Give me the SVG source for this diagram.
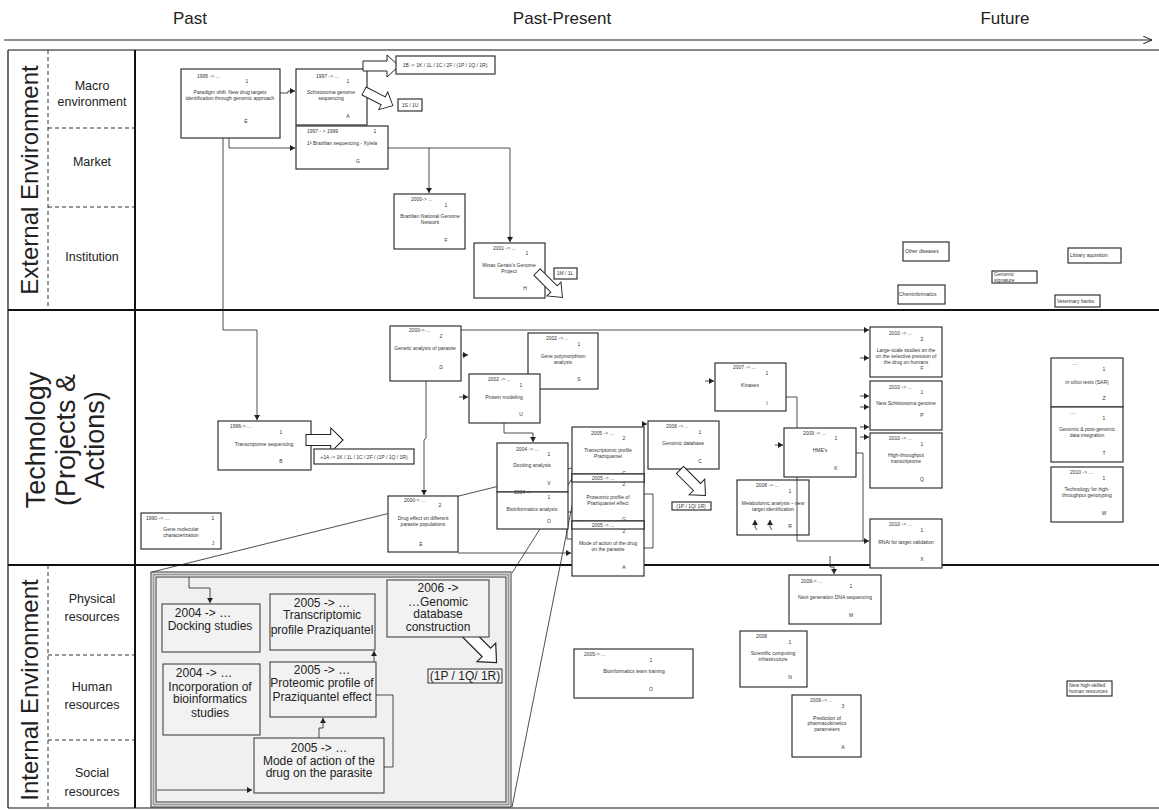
<svg xmlns="http://www.w3.org/2000/svg" width="1159" height="811" viewBox="0 0 1159 811">
<style>
.n{fill:#fff;stroke:#333;stroke-width:1.2}
.t{font-family:"Liberation Sans",Arial,sans-serif;font-size:5px;fill:#333}
.m{text-anchor:middle}
.c{fill:none;stroke:#222;stroke-width:0.8}
.ca{fill:none;stroke:#222;stroke-width:0.8;marker-end:url(#ah)}
.ba{fill:#fff;stroke:#222;stroke-width:1}
.hd{font-family:"Liberation Sans",Arial,sans-serif;font-size:17px;fill:#222;text-anchor:middle}
.big{font-family:"Liberation Sans",Arial,sans-serif;font-size:24px;fill:#222;text-anchor:middle}
.lab{font-family:"Liberation Sans",Arial,sans-serif;font-size:12.5px;fill:#222;text-anchor:middle}
.pb{fill:#f2f2f2;stroke:#333;stroke-width:1}
.pt{font-family:"Liberation Sans",Arial,sans-serif;font-size:12px;fill:#222;text-anchor:middle}
.sep{stroke:#111;stroke-width:2}
.thin{stroke:#111;stroke-width:1.2}
.dash{stroke:#333;stroke-width:1;stroke-dasharray:4 3}
</style>
<defs>
<marker id="ah" markerUnits="userSpaceOnUse" markerWidth="6" markerHeight="6" refX="5" refY="3" orient="auto"><path d="M0,0 L5,3 L0,6 z" fill="#222"/></marker>
<marker id="hah" markerUnits="userSpaceOnUse" markerWidth="10" markerHeight="8" refX="9" refY="4" orient="auto"><path d="M0,0 L9,4 L0,8" fill="none" stroke="#222" stroke-width="1"/></marker>
<path id="blk" d="M0,-5 L24,-5 L24,-11 L36,0 L24,11 L24,5 L0,5 Z"/>
</defs>

<!-- header -->
<g id="header">
<text class="hd" x="190" y="24">Past</text>
<text class="hd" x="562" y="24">Past-Present</text>
<text class="hd" x="1005" y="24">Future</text>
<line x1="4" y1="40" x2="1152" y2="40" stroke="#222" stroke-width="1" marker-end="url(#hah)"/>
</g>

<!-- frame -->
<g id="frame">
<line class="thin" x1="8" y1="50" x2="1159" y2="50"/>
<line class="thin" x1="8" y1="50" x2="8" y2="808"/>
<line class="thin" x1="8" y1="808" x2="1159" y2="808"/>
<line class="sep" x1="135" y1="50" x2="135" y2="808"/>
<line class="sep" x1="8" y1="310" x2="1159" y2="310"/>
<line class="sep" x1="8" y1="565" x2="1159" y2="565"/>
<line class="dash" x1="48" y1="50" x2="48" y2="310"/>
<line class="dash" x1="48" y1="565" x2="48" y2="808"/>
<line class="dash" x1="48" y1="128" x2="135" y2="128"/>
<line class="dash" x1="48" y1="207" x2="135" y2="207"/>
<line class="dash" x1="48" y1="655" x2="135" y2="655"/>
<line class="dash" x1="48" y1="740" x2="135" y2="740"/>
<text class="big" transform="translate(38,180) rotate(-90)">External Environment</text>
<text class="big" transform="translate(38,690) rotate(-90)">Internal Environment</text>
<text class="big" style="font-size:27px" transform="translate(45,440) rotate(-90)">Technology</text>
<text class="big" style="font-size:27px" transform="translate(75,440) rotate(-90)">(Projects &amp;</text>
<text class="big" style="font-size:27px" transform="translate(104,440) rotate(-90)">Actions)</text>
<text class="lab" x="92" y="90">Macro</text>
<text class="lab" x="92" y="106">environment</text>
<text class="lab" x="92" y="166">Market</text>
<text class="lab" x="92" y="261">Institution</text>
<text class="lab" x="92" y="603">Physical</text>
<text class="lab" x="92" y="621">resources</text>
<text class="lab" x="92" y="691">Human</text>
<text class="lab" x="92" y="709">resources</text>
<text class="lab" x="92" y="777">Social</text>
<text class="lab" x="92" y="796">resources</text>
</g>

<!-- connectors -->
<g id="connectors">
<polyline class="ca" points="280,93 288,93 288,91 295,91"/>
<polyline class="ca" points="229,138 229,148 295,148"/>
<polyline class="ca" points="223,117 223,330 257,330 257,420"/>
<polyline class="c" points="388,148 510,148 510,237"/>
<line class="ca" x1="510" y1="236" x2="510" y2="242"/>
<polyline class="ca" points="429,148 429,193"/>
<polyline class="ca" points="461,330 869,330"/>
<line class="ca" x1="462" y1="355" x2="468" y2="355"/>
<line class="ca" x1="459" y1="397" x2="468" y2="397"/>
<polyline class="ca" points="504,423 504,433 533,433 533,442"/>
<polyline class="ca" points="426,381 426,438 424,440 424,495"/>
<polyline class="ca" points="458,553 571,553"/>
<polyline class="c" points="572,539 567,539 567,512 609,512"/>
<line class="ca" x1="609" y1="538" x2="609" y2="530"/>
<polyline class="ca" points="644,548 653,548 653,494 638,494 638,471"/>
<line class="ca" x1="642" y1="424" x2="647" y2="424"/>
<line class="ca" x1="705" y1="381" x2="714" y2="381"/>
<line class="ca" x1="775" y1="445" x2="783" y2="445"/>
<polyline class="ca" points="724,397 797,397 797,541 869,541"/>
<polyline class="c" points="856,453 863,453 863,541"/>
<line class="ca" x1="860" y1="358" x2="869" y2="358"/>
<line class="ca" x1="860" y1="396" x2="869" y2="396"/>
<line class="ca" x1="860" y1="407" x2="869" y2="407"/>
<line class="ca" x1="860" y1="427" x2="869" y2="427"/>
<line class="ca" x1="860" y1="437" x2="869" y2="437"/>
<polyline class="ca" points="830,556 830,567 834,567 834,574"/>
<polyline class="ca" points="757,530 755,527 755,520"/>
<polyline class="ca" points="772,530 770,527 770,520"/>
<line class="c" x1="152" y1="572" x2="580" y2="466"/>
<line class="c" x1="512" y1="573" x2="580" y2="466"/>
<line class="c" x1="512" y1="807" x2="580" y2="466"/>
</g>

<!-- External environment nodes -->
<g id="nE">
<rect class="n" x="181" y="69" width="99" height="69"/>
<text class="t" x="197" y="78">1995 -&gt; ...</text>
<text class="t m" x="247" y="83">1</text>
<text class="t m" x="230" y="94">Paradigm shift: New drug targets</text>
<text class="t m" x="230" y="100">identification  through genomic approach</text>
<text class="t m" x="246" y="123">E</text>
</g>
<g id="nA">
<rect class="n" x="296" y="69" width="71" height="56"/>
<text class="t" x="316" y="78">1997 -&gt; ...</text>
<text class="t m" x="348" y="83">1</text>
<text class="t m" x="331" y="94">Schistosoma genome</text>
<text class="t m" x="331" y="100">sequencing</text>
<text class="t m" x="348" y="118">A</text>
</g>
<g id="nG">
<rect class="n" x="296" y="126" width="92" height="43"/>
<text class="t" x="307" y="133">1997 - &gt; 1999</text>
<text class="t m" x="375" y="133">1</text>
<text class="t m" x="342" y="145">1ª  Brazilian sequencing - Xylela</text>
<text class="t m" x="358" y="163">G</text>
</g>
<g id="nF">
<rect class="n" x="394" y="194" width="71" height="55"/>
<text class="t" x="411" y="201">2000-&gt; ...</text>
<text class="t m" x="446" y="207">1</text>
<text class="t m" x="430" y="218">Brazilian National Genome</text>
<text class="t m" x="430" y="224">Network</text>
<text class="t m" x="446" y="242">F</text>
</g>
<g id="nH">
<rect class="n" x="474" y="243" width="71" height="55"/>
<text class="t" x="493" y="250">2001 -&gt; ...</text>
<text class="t m" x="527" y="255">1</text>
<text class="t m" x="509" y="267">Minas Gerais's Genome</text>
<text class="t m" x="509" y="273">Project</text>
<text class="t m" x="525" y="290">H</text>
</g>
<g id="arrowsExt">
<use href="#blk" class="ba" transform="translate(363,66)"/>
<use href="#blk" class="ba" transform="translate(364,91) rotate(27) scale(0.9)"/>
<use href="#blk" class="ba" transform="translate(537,272) rotate(45) scale(1,0.9)"/>
</g>
<g id="n1B">
<rect class="n" x="396" y="56" width="99" height="18"/>
<text class="t m" x="445" y="67">1B -&gt; 1K / 1L / 1C / 2F / (1P / 1Q / 1R)</text>
</g>
<g id="n1S">
<rect class="n" x="398" y="99" width="24" height="12"/>
<text class="t m" x="410" y="107">1S / 1U</text>
</g>
<g id="n1M">
<rect class="n" x="554" y="268" width="23" height="11"/>
<text class="t m" x="565" y="275">1M / 1L</text>
</g>
<g id="nOther">
<rect class="n" x="903" y="242" width="46" height="19"/>
<text class="t" x="905" y="253">Other diseases</text>
</g>
<g id="nChem">
<rect class="n" x="898" y="285" width="47" height="19"/>
<text class="t" x="899" y="296">Cheminformatics</text>
</g>
<g id="nGenSig">
<rect class="n" x="992" y="271" width="45" height="12"/>
<text class="t" x="994" y="276">Genomic</text>
<text class="t" x="994" y="282">signature</text>
</g>
<g id="nLib">
<rect class="n" x="1068" y="248" width="53" height="15"/>
<text class="t" x="1070" y="257">Library aquisition</text>
</g>
<g id="nVet">
<rect class="n" x="1055" y="295" width="45" height="12"/>
<text class="t" x="1057" y="303">Veterinary banks</text>
</g>

<!-- Technology nodes -->
<g id="nD">
<rect class="n" x="390" y="326" width="71" height="55"/>
<text class="t" x="409" y="332">2000-&gt; ...</text>
<text class="t m" x="441" y="338">2</text>
<text class="t m" x="425" y="350">Genetic analysis of parasite</text>
<text class="t m" x="441" y="369">D</text>
</g>
<g id="nS">
<rect class="n" x="528" y="333" width="70" height="56"/>
<text class="t" x="546" y="340">2002 -&gt; ...</text>
<text class="t m" x="579" y="346">1</text>
<text class="t m" x="563" y="358">Gene polymorphism</text>
<text class="t m" x="563" y="364">analysis</text>
<text class="t m" x="579" y="381">S</text>
</g>
<g id="nU">
<rect class="n" x="469" y="374" width="71" height="49"/>
<text class="t" x="488" y="381">2002 -&gt; ...</text>
<text class="t m" x="521" y="387">1</text>
<text class="t m" x="504" y="399">Protein modeling</text>
<text class="t m" x="521" y="416">U</text>
</g>
<g id="nB">
<rect class="n" x="218" y="421" width="93" height="49"/>
<text class="t" x="230" y="428">1996-&gt; ...</text>
<text class="t m" x="281" y="434">1</text>
<text class="t m" x="264" y="446">Transcriptome sequencing</text>
<text class="t m" x="281" y="463">B</text>
</g>
<use href="#blk" class="ba" transform="translate(306,440) scale(1.03,1.1)"/>
<g id="n1A">
<rect class="n" x="314" y="449" width="100" height="15"/>
<text class="t m" x="364" y="459">+1A -&gt; 1K / 1L / 1C / 2F / (1P / 1Q / 1R)</text>
</g>
<g id="nJ">
<rect class="n" x="141" y="513" width="80" height="36"/>
<text class="t" x="146" y="520">1990 -&gt; ....</text>
<text class="t m" x="213" y="520">1</text>
<text class="t m" x="181" y="531">Gene molecular</text>
<text class="t m" x="181" y="537">characterization</text>
<text class="t m" x="213" y="545">J</text>
</g>
<g id="nE2">
<rect class="n" x="388" y="496" width="70" height="56"/>
<text class="t" x="404" y="502">2000-&gt; ...</text>
<text class="t m" x="440" y="507">2</text>
<text class="t m" x="423" y="520">Drug effect on different</text>
<text class="t m" x="423" y="526">parasite populations</text>
<text class="t m" x="421" y="546">E</text>
</g>
<g id="nV">
<rect class="n" x="497" y="443" width="71" height="49"/>
<text class="t" x="516" y="451">2004 -&gt; ...</text>
<text class="t m" x="549" y="456">1</text>
<text class="t m" x="532" y="467">Docking analysis</text>
<text class="t m" x="549" y="485">V</text>
</g>
<g id="nOs">
<rect class="n" x="497" y="492" width="71" height="37"/>
<text class="t" x="514" y="494">2004 -&gt;</text>
<text class="t m" x="549" y="499">1</text>
<text class="t m" x="532" y="511">Bioinformatics analysis</text>
<text class="t m" x="549" y="523">O</text>
</g>
<g id="nC">
<rect class="n" x="572" y="427" width="72" height="55"/>
<text class="t" x="591" y="435">2005 -&gt; ...</text>
<text class="t m" x="624" y="440">2</text>
<text class="t m" x="608" y="452">Transcriptomic profile</text>
<text class="t m" x="608" y="458">Praziquantel</text>
<text class="t m" x="624" y="475">C</text>
</g>
<g id="nGp">
<rect class="n" x="572" y="474" width="72" height="55"/>
<rect class="n" x="572" y="474" width="72" height="8"/>
<text class="t m" x="603" y="480">2005 -&gt; ...</text>
<text class="t m" x="624" y="486">2</text>
<text class="t m" x="608" y="499">Proteomic profile of</text>
<text class="t m" x="608" y="505">Praziquantel effect</text>
<text class="t m" x="624" y="521">G</text>
</g>
<g id="nAm">
<rect class="n" x="572" y="521" width="72" height="55"/>
<rect class="n" x="572" y="521" width="72" height="8"/>
<text class="t m" x="603" y="527">2005 -&gt; ...</text>
<text class="t m" x="624" y="533">2</text>
<text class="t m" x="608" y="545">Mode of action of the drug</text>
<text class="t m" x="608" y="551">on the parasite</text>
<text class="t m" x="624" y="569">A</text>
</g>
<g id="nC2">
<rect class="n" x="648" y="421" width="71" height="48"/>
<text class="t" x="666" y="428">2006 -&gt; ...</text>
<text class="t m" x="700" y="434">1</text>
<text class="t m" x="683" y="445">Genomic database</text>
<text class="t m" x="700" y="463">C</text>
</g>
<use href="#blk" class="ba" transform="translate(680,470) rotate(45)"/>
<g id="n1P">
<rect class="n" x="672" y="502" width="39" height="8"/>
<text class="t m" x="691" y="508">(1P / 1Q/ 1R)</text>
</g>
<g id="nI">
<rect class="n" x="715" y="363" width="71" height="48"/>
<text class="t" x="733" y="369">2007 -&gt; ...</text>
<text class="t m" x="767" y="375">1</text>
<text class="t m" x="750" y="387">Kinases</text>
<text class="t m" x="767" y="405">I</text>
</g>
<g id="nK">
<rect class="n" x="784" y="428" width="72" height="49"/>
<text class="t" x="803" y="435">2009 -&gt; ...</text>
<text class="t m" x="836" y="440">1</text>
<text class="t m" x="820" y="452">HME's</text>
<text class="t m" x="836" y="470">K</text>
</g>
<g id="nR">
<rect class="n" x="737" y="480" width="72" height="55" fill-opacity="0"/>
<text class="t" x="756" y="487">2008 -&gt; ...</text>
<text class="t m" x="790" y="493">1</text>
<text class="t m" x="773" y="505">Metabolomic analysis – new</text>
<text class="t m" x="773" y="511">target identification</text>
<text class="t m" x="790" y="528">R</text>
</g>
<g id="nF2">
<rect class="n" x="870" y="327" width="72" height="50"/>
<text class="t" x="889" y="335">2010 -&gt; ...</text>
<text class="t m" x="922" y="341">2</text>
<text class="t m" x="906" y="352">Large-scale studies on the</text>
<text class="t m" x="906" y="358">on the selective pression of</text>
<text class="t m" x="906" y="364">the drug on humans</text>
<text class="t m" x="922" y="370">F</text>
</g>
<g id="nP">
<rect class="n" x="870" y="381" width="72" height="49"/>
<text class="t" x="889" y="389">2010 -&gt; ...</text>
<text class="t m" x="922" y="394">1</text>
<text class="t m" x="906" y="405">New Schistosoma genome</text>
<text class="t m" x="922" y="417">P</text>
</g>
<g id="nQ">
<rect class="n" x="870" y="433" width="72" height="55"/>
<text class="t" x="889" y="440">2010 -&gt; ...</text>
<text class="t m" x="922" y="446">1</text>
<text class="t m" x="906" y="457">High-throughput</text>
<text class="t m" x="906" y="463">transcriptome</text>
<text class="t m" x="922" y="481">Q</text>
</g>
<g id="nX">
<rect class="n" x="870" y="519" width="72" height="49"/>
<text class="t" x="889" y="526">2010 -&gt; ...</text>
<text class="t m" x="922" y="532">1</text>
<text class="t m" x="906" y="544">RNAi for target validation</text>
<text class="t m" x="922" y="561">X</text>
</g>
<g id="nZ">
<rect class="n" x="1051" y="358" width="72" height="49"/>
<text class="t" x="1072" y="365">....</text>
<text class="t m" x="1104" y="371">1</text>
<text class="t m" x="1087" y="384"><tspan font-style="italic">in silico</tspan> tests (SAR)</text>
<text class="t m" x="1104" y="400">Z</text>
</g>
<g id="nT">
<rect class="n" x="1051" y="407" width="72" height="55"/>
<text class="t" x="1070" y="414">....</text>
<text class="t m" x="1104" y="420">1</text>
<text class="t m" x="1087" y="431">Genomic &amp; post-genomic</text>
<text class="t m" x="1087" y="437">data integration</text>
<text class="t m" x="1104" y="455">T</text>
</g>
<g id="nW">
<rect class="n" x="1051" y="467" width="72" height="55"/>
<text class="t" x="1070" y="474">2010 -&gt; ...</text>
<text class="t m" x="1104" y="480">1</text>
<text class="t m" x="1087" y="491">Technology for high-</text>
<text class="t m" x="1087" y="497">throughput genotyping</text>
<text class="t m" x="1104" y="515">W</text>
</g>

<!-- Internal environment nodes -->
<g id="nM">
<rect class="n" x="789" y="575" width="92" height="49"/>
<text class="t" x="801" y="583">2009-&gt; ...</text>
<text class="t m" x="851" y="588">1</text>
<text class="t m" x="835" y="599">Next generation DNA sequencing</text>
<text class="t m" x="851" y="617">M</text>
</g>
<g id="nN">
<rect class="n" x="740" y="631" width="67" height="56"/>
<text class="t" x="756" y="638">2008</text>
<text class="t m" x="790" y="644">1</text>
<text class="t m" x="773" y="655">Scientific computing</text>
<text class="t m" x="773" y="661">infrastructure</text>
<text class="t m" x="790" y="679">N</text>
</g>
<g id="nO">
<rect class="n" x="574" y="649" width="119" height="49"/>
<text class="t" x="584" y="656">2005-&gt; ...</text>
<text class="t m" x="651" y="662">1</text>
<text class="t m" x="634" y="673">Bioinformatics team training</text>
<text class="t m" x="651" y="691">O</text>
</g>
<g id="nA2">
<rect class="n" x="792" y="695" width="69" height="62"/>
<text class="t" x="810" y="702">2009 -&gt; ...</text>
<text class="t m" x="843" y="708">3</text>
<text class="t m" x="827" y="720">Prediction of</text>
<text class="t m" x="827" y="725">pharmacokinetics</text>
<text class="t m" x="827" y="731">parameters</text>
<text class="t m" x="843" y="749">A</text>
</g>
<g id="nHR">
<rect class="n" x="1067" y="681" width="45" height="15"/>
<text class="t" x="1069" y="687">New    high-skilled</text>
<text class="t" x="1069" y="693">human resources</text>
</g>

<!-- zoom panel -->
<g id="panel">
<rect x="151" y="572" width="360" height="235" fill="none" stroke="#333" stroke-width="1"/>
<rect x="153.5" y="574.5" width="355" height="230" fill="none" stroke="#999" stroke-width="2"/>
<rect x="156" y="577" width="350" height="225" fill="#f0f0f0" stroke="#333" stroke-width="1"/>
<polyline class="ca" points="189,577 189,588 210,588 210,603"/>
<polyline class="ca" points="319,738 319,728 323,728 323,718"/>
<polyline class="ca" points="384,767 393,767 393,695 374,695 374,651"/>
<polyline class="ca" points="157,790 252,790"/>
<use href="#blk" class="ba" transform="translate(466,632) rotate(45) scale(1.2)"/>
</g>
<g id="pDock">
<rect class="pb" x="162" y="604" width="98" height="48"/>
<text class="pt" x="203" y="617">2004 -&gt; …</text>
<text class="pt" x="210" y="630">Docking studies</text>
</g>
<g id="pInc">
<rect class="pb" x="163" y="664" width="97" height="71"/>
<text class="pt" x="204" y="677">2004 -&gt; …</text>
<text class="pt" x="210" y="691">Incorporation of</text>
<text class="pt" x="210" y="703">bioinformatics</text>
<text class="pt" x="210" y="717">studies</text>
</g>
<g id="pTrans">
<rect class="pb" x="270" y="594" width="105" height="56"/>
<text class="pt" x="322" y="607">2005 -&gt; …</text>
<text class="pt" x="322" y="619">Transcriptomic</text>
<text class="pt" x="322" y="634">profile Praziquantel</text>
</g>
<g id="pProt">
<rect class="pb" x="270" y="662" width="106" height="55"/>
<text class="pt" x="322" y="674">2005 -&gt; …</text>
<text class="pt" x="322" y="687">Proteomic profile of</text>
<text class="pt" x="322" y="701">Praziquantel effect</text>
</g>
<g id="pMode">
<rect class="pb" x="254" y="738" width="130" height="55"/>
<text class="pt" x="319" y="752">2005 -&gt; …</text>
<text class="pt" x="319" y="765">Mode of action of the</text>
<text class="pt" x="319" y="777">drug on the parasite</text>
</g>
<g id="pGen">
<rect class="pb" x="387" y="580" width="102" height="57"/>
<text class="pt" x="438" y="592">2006 -&gt;</text>
<text class="pt" x="438" y="606">…Genomic</text>
<text class="pt" x="438" y="618">database</text>
<text class="pt" x="438" y="631">construction</text>
</g>
<g id="p1P">
<rect class="pb" x="428" y="669" width="74" height="14"/>
<text class="pt" x="465" y="680">(1P / 1Q/ 1R)</text>
</g>
</svg>
